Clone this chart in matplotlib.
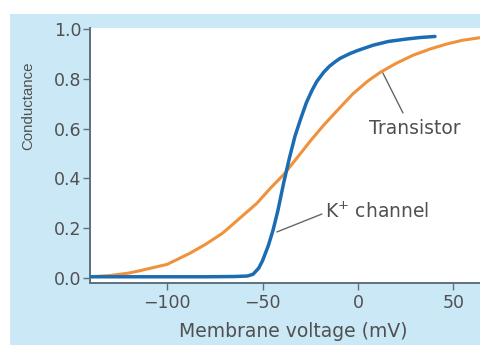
import matplotlib
matplotlib.use("Agg")
import matplotlib.pyplot as plt
from matplotlib.patches import Rectangle

plt.rcParams['font.family'] = ['DejaVu Sans']

# Data
k_voltage = [-140.5, -120, -100, -80, -65, -58, -55, -52, -50, -47, -44.6, -42, -39, -36,
             -33, -30, -27, -24, -21.5, -18, -15, -12, -9.4, -4, 0, 8, 16, 25.7, 33, 40.4]
k_conductance = [0.005, 0.005, 0.005, 0.005, 0.006, 0.008, 0.015, 0.04, 0.07, 0.13, 0.19, 0.27,
                 0.38, 0.48, 0.57, 0.64, 0.705, 0.755, 0.79, 0.826, 0.85, 0.868, 0.882, 0.902,
                 0.914, 0.935, 0.95, 0.96, 0.966, 0.97]

tr_voltage = [-140.5, -130, -120, -114, -100, -88, -80, -71, -62, -53, -46, -39, -32, -25,
              -18.4, -10, -2.6, 5, 11.5, 20, 29, 38, 46.7, 55, 64]
tr_conductance = [0.005, 0.01, 0.02, 0.03, 0.055, 0.10, 0.135, 0.18, 0.24, 0.30, 0.36, 0.415,
                  0.482, 0.55, 0.61, 0.68, 0.74, 0.79, 0.825, 0.862, 0.895, 0.92, 0.94, 0.955,
                  0.965]

x_ticks = [-100, -50, 0, 50]
x_ticklabels = ['\u2212100', '\u221250', '0', '50']
y_ticks = [0.0, 0.2, 0.4, 0.6, 0.8, 1.0]
y_ticklabels = ['0.0', '0.2', '0.4', '0.6', '0.8', '1.0']

W, H = 480, 345
fig = plt.figure(figsize=(W / 100, H / 100), dpi=100)
fig.patch.set_facecolor('white')
bg = '#cbe8f6'
rect = Rectangle((10 / W, 0), 1 - 10 / W, 1 - 14 / H, transform=fig.transFigure,
                 facecolor=bg, edgecolor='none', zorder=-10)
fig.add_artist(rect)

ax = fig.add_axes([90 / W, 1 - 283 / H, 1 - 90 / W, (283 - 28) / H])
ax.set_zorder(1)
ax.set_facecolor('white')

blue = '#1b6db3'
orange = '#f0923c'
ax.plot(tr_voltage, tr_conductance, color=orange, lw=2.2, solid_capstyle='round', zorder=3)
ax.plot(k_voltage, k_conductance, color=blue, lw=2.5, solid_capstyle='round', zorder=4)

ax.set_xlim(-140.5, 64)
ax.set_ylim(-0.02, 1.004)

spine_c = '#5f6f7c'
for s in ['top', 'right']:
    ax.spines[s].set_visible(False)
for s in ['left', 'bottom']:
    ax.spines[s].set_color(spine_c)
    ax.spines[s].set_linewidth(1.4)

text_c = '#505050'
ax.set_xticks(x_ticks)
ax.set_xticklabels(x_ticklabels)
ax.set_yticks(y_ticks)
ax.set_yticklabels(y_ticklabels)
ax.tick_params(axis='both', direction='out', length=5, width=1.0, color=spine_c,
               labelcolor=text_c, labelsize=12.5)
ax.tick_params(axis='y', pad=1)
ax.tick_params(axis='x', pad=3)

# Axis titles
fig.text(293 / W, (H - 337) / H, 'Membrane voltage (mV)', color=text_c, fontsize=13.5,
         ha='center', va='baseline')
fig.text(28 / W, 1 - 106 / H, 'Conductance', color=text_c, fontsize=10.8,
         family=['Liberation Sans', 'DejaVu Sans'], rotation=90, ha='center', va='center')

# Annotations
ann_c = '#666666'
ax.annotate('', xy=(13.1, 0.823), xytext=(23.6, 0.663),
            arrowprops=dict(arrowstyle='-', color=ann_c, lw=1.0, shrinkA=0, shrinkB=0))
ax.text(29.9, 0.60, 'Transistor', color=text_c, fontsize=13.5, ha='center', va='center')
ax.annotate('', xy=(-42.5, 0.185), xytext=(-18.9, 0.257),
            arrowprops=dict(arrowstyle='-', color=ann_c, lw=1.0, shrinkA=0, shrinkB=0))
ax.text(-17.3, 0.265, 'K$^{+}$ channel', color=text_c, fontsize=13.5, ha='left', va='center')

fig.savefig('out.png', dpi=100, facecolor=fig.get_facecolor())
